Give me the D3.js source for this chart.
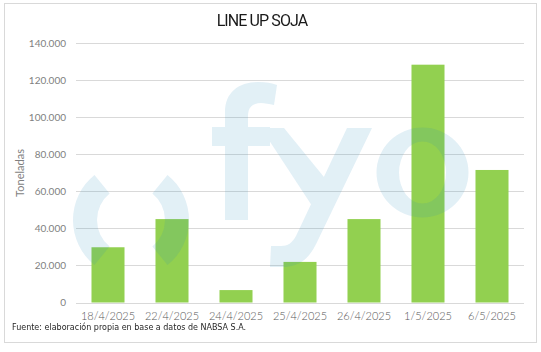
<!DOCTYPE html>
<html>
<head>
<meta charset="utf-8">
<script src="https://cdn.jsdelivr.net/npm/d3@7"></script>
<style>
  body { margin: 0; background: #fff; }
  svg { display: block; }
</style>
</head>
<body>
<svg id="chart" width="541" height="352"></svg>
<script>
// data
var fechas = ["18/4/2025", "22/4/2025", "24/4/2025", "25/4/2025", "26/4/2025", "1/5/2025", "6/5/2025"];
var toneladas = [29800, 45000, 6700, 21900, 45000, 128300, 71500];
var yTicks = [0, 20000, 40000, 60000, 80000, 100000, 120000, 140000];

var svg = d3.select("#chart"),
    W = 541, H = 352,
    margin = {top: 43, right: 17, bottom: 50, left: 76},
    plotW = W - margin.left - margin.right,
    plotH = 302.5 - margin.top;

// outer frame
svg.append("rect")
    .attr("x", 4.5).attr("y", 3.5)
    .attr("width", 532).attr("height", 339)
    .attr("fill", "#fff")
    .attr("stroke", "#d9d9d9");

var x = d3.scaleBand()
    .domain(fechas)
    .range([margin.left, margin.left + plotW])
    .paddingInner(0.484)
    .paddingOuter(0.242);

var y = d3.scaleLinear()
    .domain([0, 140000])
    .range([margin.top + plotH, margin.top]);

var fmt = function(d) { return d3.format(",")(d).replace(/,/g, "."); };

// grid
svg.append("g")
  .selectAll("line")
  .data(yTicks)
  .enter().append("line")
    .attr("x1", margin.left)
    .attr("x2", margin.left + plotW)
    .attr("y1", function(d) { return Math.round(y(d)) + 0.5; })
    .attr("y2", function(d) { return Math.round(y(d)) + 0.5; })
    .attr("stroke", "#d9d9d9");

// y labels
svg.append("g")
  .selectAll("text")
  .data(yTicks)
  .enter().append("text")
    .attr("x", 66)
    .attr("y", function(d) { return y(d); })
    .attr("dy", "0.35em")
    .attr("text-anchor", "end")
    .attr("font-family", "Lato, sans-serif")
    .attr("font-size", 10)
    .attr("fill", "#7f7f7f")
    .text(fmt);

// bars
svg.append("g")
  .selectAll("rect")
  .data(toneladas)
  .enter().append("rect")
    .attr("x", function(d, i) { return x(fechas[i]); })
    .attr("y", function(d) { return y(d); })
    .attr("width", x.bandwidth())
    .attr("height", function(d) { return y(0) - y(d); })
    .attr("fill", "#92d050");

// "( ) fyo" watermark, drawn as shapes; group opacity so overlaps don't stack
var wm = svg.append("g")
    .attr("fill", "rgb(40,140,190)")
    .attr("opacity", 0.135);

var ring = d3.arc().innerRadius(34).outerRadius(58);
var deg = Math.PI / 180;
wm.append("path")
    .attr("transform", "translate(131,220)")
    .attr("d", ring({startAngle: 219 * deg, endAngle: 321 * deg}));
wm.append("path")
    .attr("transform", "translate(131,220)")
    .attr("d", ring({startAngle: 39 * deg, endAngle: 141 * deg}));

// f
wm.append("path")
    .attr("d", "M225,220 L225,112 C225,93 238,82 258,82 C266,82 272,83 277,85 L274,105 " +
               "C269,104 265,103 261,103 C252,103 248,108 248,116 L248,220 Z");
wm.append("rect").attr("x", 212).attr("y", 127).attr("width", 58).attr("height", 19);

// y
wm.append("path")
    .attr("d", "M261,128 L284,128 L328,182 L320,218 Z");
wm.append("path")
    .attr("d", "M347,128 L372,128 L318,240 C310,258 300,267 283,267 L270,267 L271,246 L281,246 " +
               "C288,246 292,243 296,236 Z");

// o
wm.append("path")
    .attr("fill-rule", "evenodd")
    .attr("d", "M376.5,172.5 A46,45 0 1,0 468.5,172.5 A46,45 0 1,0 376.5,172.5 Z " +
               "M399,172.5 A23.5,31 0 1,0 446,172.5 A23.5,31 0 1,0 399,172.5 Z");

// x labels
svg.append("g")
  .selectAll("text")
  .data(fechas)
  .enter().append("text")
    .attr("x", function(d) { return x(d) + x.bandwidth() / 2; })
    .attr("y", 320)
    .attr("text-anchor", "middle")
    .attr("font-family", "Lato, sans-serif")
    .attr("font-weight", 300)
    .attr("font-size", 11)
    .attr("fill", "#595959")
    .text(function(d) { return d; });

// axis title
svg.append("text")
    .attr("transform", "translate(24,173) rotate(-90)")
    .attr("text-anchor", "middle")
    .attr("font-family", "Lato, sans-serif")
    .attr("font-size", 11)
    .attr("fill", "#7f7f7f")
    .text("Toneladas");

// title
svg.append("text")
    .attr("x", 262).attr("y", 26)
    .attr("text-anchor", "middle")
    .attr("font-family", "Roboto, sans-serif")
    .attr("font-size", 16)
    .attr("letter-spacing", -0.9)
    .attr("fill", "#1a1a1a")
    .text("LINE UP SOJA");

// source
svg.append("text")
    .attr("x", 12).attr("y", 330)
    .attr("font-family", "'DejaVu Sans', sans-serif")
    .attr("font-size", 8)
    .attr("fill", "#262626")
    .text("Fuente: elaboración propia en base a datos de NABSA S.A.");
</script>
</body>
</html>
